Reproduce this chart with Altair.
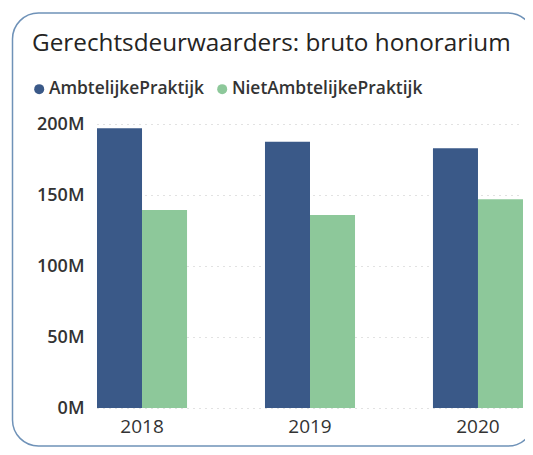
import altair as alt
import pandas as pd

years = ["2018", "2019", "2020"]
series = ["AmbtelijkePraktijk", "NietAmbtelijkePraktijk"]
ambtelijk = [197.0e6, 187.5e6, 182.9e6]
niet_ambtelijk = [139.4e6, 135.9e6, 147.0e6]
y_ticks = [0, 50e6, 100e6, 150e6, 200e6]
colors = ["#3A5988", "#8DC89A"]

rows = []
for i, yr in enumerate(years):
    rows.append({"jaar": yr, "reeks": series[0], "waarde": ambtelijk[i]})
    rows.append({"jaar": yr, "reeks": series[1], "waarde": niet_ambtelijk[i]})
df = pd.DataFrame(rows)

FONT = "Open Sans"

bars = alt.Chart(df).mark_bar().encode(
    x=alt.X("jaar:N", sort=years, title=None,
            scale=alt.Scale(paddingInner=0.464, paddingOuter=0),
            axis=alt.Axis(labelAngle=0, ticks=False, domain=False, labelFontSize=19,
                          labelColor="#333333", labelPadding=9, labelFont=FONT)),
    xOffset=alt.XOffset("reeks:N", sort=series),
    y=alt.Y("waarde:Q", title=None,
            scale=alt.Scale(domain=[0, 200e6], nice=False),
            axis=alt.Axis(values=y_ticks, labelExpr="datum.value / 1000000 + 'M'",
                          ticks=False, domain=False, grid=True, gridDash=[1, 5],
                          gridColor="#C4C4C4", gridWidth=1, labelFontSize=18,
                          labelFontWeight=600,
                          labelColor="#333333", labelPadding=13, labelFont=FONT)),
    color=alt.Color("reeks:N", sort=series,
                    scale=alt.Scale(domain=series, range=colors),
                    legend=alt.Legend(title=None, orient="none", direction="horizontal",
                                      legendX=-66.5, legendY=-44, symbolType="circle",
                                      symbolSize=100, symbolStrokeWidth=0,
                                      labelFontSize=17.4, labelFontWeight=600,
                                      labelColor="#333333", labelLimit=400,
                                      labelFont=FONT, labelOffset=1, columnPadding=9)),
)

frame = alt.Chart(pd.DataFrame({"k": [0]})).mark_rect(
    fill="transparent", stroke="#6F92B8", strokeWidth=1.5, cornerRadius=26
).encode(
    x=alt.value(-84.5), x2=alt.value(437), y=alt.value(-111), y2=alt.value(322)
)

chart = alt.layer(frame, bars).properties(
    width=426, height=284,
    title=alt.TitleParams("Gerechtsdeurwaarders: bruto honorarium", anchor="start",
                          frame="group", dx=-65, offset=-44, fontSize=24.3,
                          fontWeight="normal", font=FONT, color="#252423"),
    autosize=alt.AutoSizeParams(type="none"),
    padding={"left": 89, "top": 116, "right": 2, "bottom": 39},
).configure_view(stroke=None)

chart.save("out.html", embed_options={"renderer": "svg", "actions": False})
